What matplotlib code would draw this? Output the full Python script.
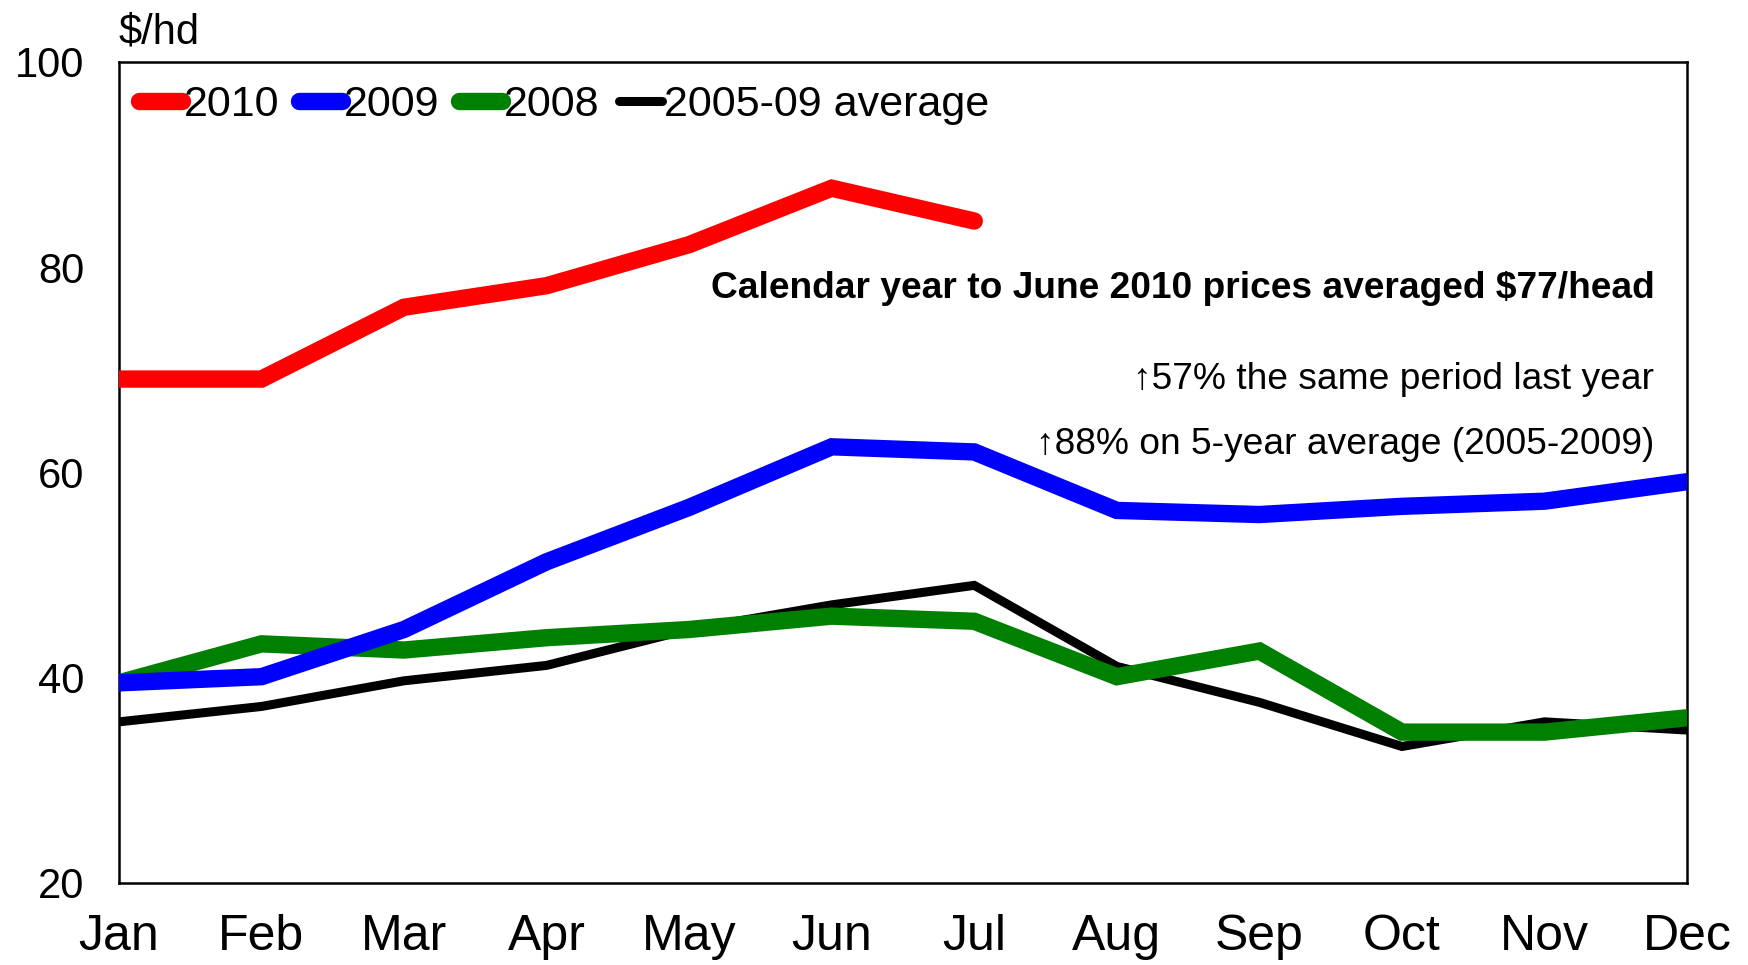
import matplotlib
matplotlib.use("Agg")
import matplotlib.pyplot as plt
import numpy as np

plt.rcParams["font.family"] = ["Liberation Sans", "DejaVu Sans"]

MONTHS = ["Jan", "Feb", "Mar", "Apr", "May", "Jun", "Jul", "Aug", "Sep", "Oct", "Nov", "Dec"]

# $/hd por mes
PRICE_2010 = [69.1, 69.1, 76.1, 78.2, 82.2, 87.7, 84.5]
PRICE_2009 = [39.5, 40.1, 44.7, 51.3, 56.6, 62.5, 62.0, 56.3, 55.9, 56.7, 57.2, 59.1]
PRICE_2008 = [39.5, 43.3, 42.7, 43.9, 44.7, 46.0, 45.5, 40.1, 42.6, 34.7, 34.7, 36.1]
PRICE_AVG = [35.7, 37.2, 39.7, 41.2, 44.7, 47.1, 49.0, 41.1, 37.6, 33.3, 35.7, 34.9]

NOTE_TITLE = "Calendar year to June 2010 prices averaged $77/head"
NOTE_LINES = ["\u219157% the same period last year", "\u219188% on 5-year average (2005-2009)"]

fig = plt.figure(figsize=(17.49, 9.65), dpi=100)
ax = fig.add_axes([0.068, 0.085, 0.8966, 0.8508])

x = np.arange(len(MONTHS))
kw = dict(solid_capstyle="round", solid_joinstyle="miter")
ax.plot(x, PRICE_AVG, color="black", linewidth=6.5, label="2005-09 average", zorder=2, **kw)
ax.plot(x, PRICE_2008, color="#008000", linewidth=12.5, label="2008", zorder=3, **kw)
ax.plot(x, PRICE_2009, color="#0000ff", linewidth=12.5, label="2009", zorder=4, **kw)
ax.plot(x[:len(PRICE_2010)], PRICE_2010, color="#ff0000", linewidth=12.5, label="2010", zorder=5, **kw)

ax.set_xlim(0, 11)
ax.set_ylim(20, 100)
ax.set_yticks([20, 40, 60, 80, 100])
ax.set_xticks(x)
ax.set_xticklabels(MONTHS)
ax.tick_params(axis="x", length=0, pad=22, labelsize=36)
ax.tick_params(axis="y", length=0, pad=25, labelsize=30)
for sp in ax.spines.values():
    sp.set_linewidth(1.8)
    sp.set_color("black")

ax.text(0.0, 1.012, "$/hd", transform=ax.transAxes, fontsize=30, ha="left", va="bottom")

handles, labels = ax.get_legend_handles_labels()
order = [3, 2, 1, 0]
ax.legend([handles[i] for i in order], [labels[i] for i in order],
          loc="upper left", bbox_to_anchor=(0.0057, 0.985), ncol=4, frameon=False,
          fontsize=31, handlelength=1.0, handletextpad=0.05, columnspacing=0.45,
          borderaxespad=0.1, borderpad=0.15)

ax.text(10.77, 77.9, NOTE_TITLE, fontsize=26.7, fontweight="bold", ha="right", va="center")
ax.text(10.77, 69.1, NOTE_LINES[0], fontsize=26.7, ha="right", va="center")
ax.text(10.77, 62.7, NOTE_LINES[1], fontsize=26.7, ha="right", va="center")

fig.savefig("out.png", dpi=100)
